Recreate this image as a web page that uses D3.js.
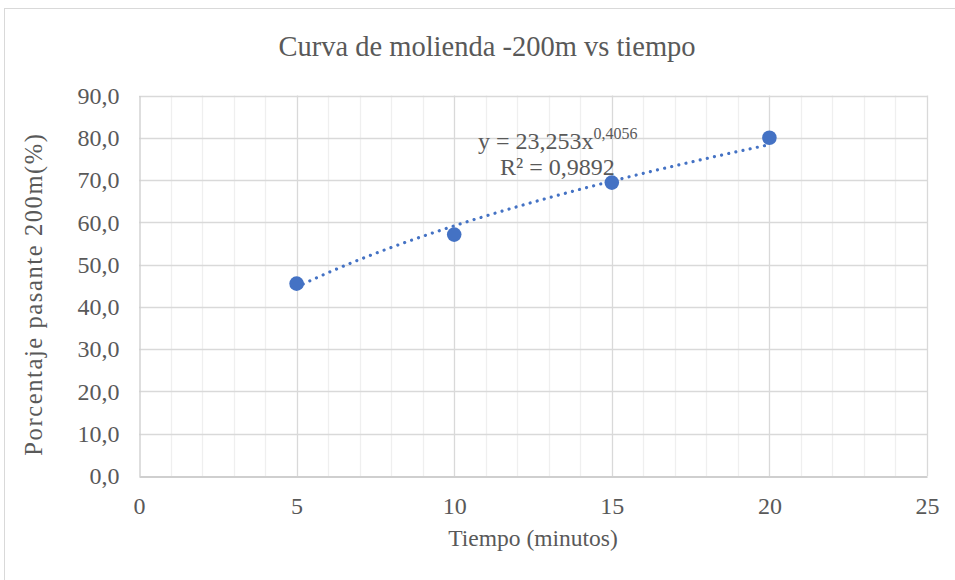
<!DOCTYPE html>
<html>
<head>
<meta charset="utf-8">
<script src="https://cdn.jsdelivr.net/npm/d3@7"></script>
<style>
  html, body { margin: 0; padding: 0; background: #ffffff; }
  svg { display: block; }
  svg text { font-family: "Times New Roman", serif; fill: #595959; }
</style>
</head>
<body>
<svg id="chart" width="955" height="580"></svg>
<script>
// Grinding curve: percent passing -200 mesh against grinding time
const tiempo = [5, 10, 15, 20];
const pasante = [45.5, 57.1, 69.4, 80.0];

// Power-law fit y = a·x^b, as reported in the trendline label
const fitA = 23.253;
const fitB = 0.4056;
const fitR2 = "0,9892";

const xTicks = [0, 5, 10, 15, 20, 25];
const yTicks = [0, 10, 20, 30, 40, 50, 60, 70, 80, 90];
const xMinorTicks = d3.range(0, 26, 1);

const titleText = "Curva de molienda -200m vs tiempo";
const xTitle = "Tiempo (minutos)";
const yTitle = "Porcentaje pasante 200m(%)";

const svg = d3.select("#chart");
const W = 955, H = 580;
const plot = { left: 139, right: 927, top: 95.5, bottom: 476 };

const x = d3.scaleLinear().domain([0, 25]).range([plot.left, plot.right]);
const y = d3.scaleLinear().domain([0, 90]).range([plot.bottom, plot.top]);
const fmt = v => d3.format(".1f")(v).replace(".", ",");
const comma = v => String(v).replace(".", ",");

// Chart frame
svg.append("rect")
  .attr("x", 4.5).attr("y", 8.5)
  .attr("width", W + 10).attr("height", H + 10)
  .attr("fill", "#ffffff").attr("stroke", "#d9d9d9");

// Title
svg.append("text")
  .attr("x", 487).attr("y", 56)
  .attr("text-anchor", "middle")
  .attr("font-size", 28.5)
  .text(titleText);

const grid = svg.append("g");

// Minor vertical gridlines
grid.selectAll("line.minor")
  .data(xMinorTicks.filter(d => d % 5 !== 0))
  .join("line")
  .attr("class", "minor")
  .attr("x1", d => Math.round(x(d)) + 0.5).attr("x2", d => Math.round(x(d)) + 0.5)
  .attr("y1", plot.top).attr("y2", plot.bottom)
  .attr("stroke", "#efefef").attr("stroke-width", 1.3);

// Major vertical gridlines
grid.selectAll("line.vmajor")
  .data(xTicks.filter(d => d > 0))
  .join("line")
  .attr("class", "vmajor")
  .attr("x1", d => Math.round(x(d)) + 0.5).attr("x2", d => Math.round(x(d)) + 0.5)
  .attr("y1", plot.top).attr("y2", plot.bottom)
  .attr("stroke", "#d9d9d9").attr("stroke-width", 1.3);

// Horizontal gridlines
grid.selectAll("line.hmajor")
  .data(yTicks.filter(d => d > 0))
  .join("line")
  .attr("class", "hmajor")
  .attr("x1", plot.left).attr("x2", plot.right)
  .attr("y1", d => Math.round(y(d)) + 0.5).attr("y2", d => Math.round(y(d)) + 0.5)
  .attr("stroke", "#d9d9d9").attr("stroke-width", 1.3);

// Axes
const xAxis = d3.axisBottom(x).tickValues(xTicks).tickSize(0).tickPadding(20)
  .tickFormat(d3.format("d"));
const gx = svg.append("g")
  .attr("transform", `translate(0,${Math.round(plot.bottom) + 0.5})`)
  .call(xAxis);
gx.attr("font-family", null).attr("font-size", null);
gx.select(".domain").attr("stroke", "#bfbfbf").attr("stroke-width", 1.4);
gx.selectAll("text").attr("font-size", 24).attr("fill", "#595959");

const yAxis = d3.axisLeft(y).tickValues(yTicks).tickSize(0).tickPadding(20)
  .tickFormat(fmt);
const gy = svg.append("g")
  .attr("transform", `translate(${Math.round(plot.left) + 0.5},0)`)
  .call(yAxis);
gy.attr("font-family", null).attr("font-size", null);
gy.select(".domain").attr("stroke", "#d0d0d0").attr("stroke-width", 1.4);
gy.selectAll("text").attr("font-size", 24).attr("fill", "#595959");

// Axis titles
svg.append("text")
  .attr("x", (plot.left + plot.right) / 2).attr("y", 546)
  .attr("text-anchor", "middle")
  .attr("font-size", 23.5)
  .text(xTitle);

svg.append("text")
  .attr("transform", "translate(42,294) rotate(-90)")
  .attr("text-anchor", "middle")
  .attr("font-size", 24.5)
  .attr("letter-spacing", 1.6)
  .text(yTitle);

// Trendline from the power-law fit, across the data range
const fitX = d3.range(tiempo[0], tiempo[tiempo.length - 1] + 0.001, 0.25);
const trend = d3.line()
  .x(d => x(d))
  .y(d => y(fitA * Math.pow(d, fitB)))
  .curve(d3.curveMonotoneX);
svg.append("path")
  .datum(fitX)
  .attr("d", trend)
  .attr("fill", "none")
  .attr("stroke", "#4472C4")
  .attr("stroke-width", 3.2)
  .attr("stroke-linecap", "round")
  .attr("stroke-dasharray", "0.01 7.3");

// Data points
svg.append("g")
  .selectAll("circle")
  .data(tiempo.map((t, i) => ({ t, v: pasante[i] })))
  .join("circle")
  .attr("cx", d => x(d.t))
  .attr("cy", d => y(d.v))
  .attr("r", 7.3)
  .attr("fill", "#4472C4");

// Trendline equation label
const eq = svg.append("text")
  .attr("x", 478).attr("y", 149)
  .attr("font-size", 24);
eq.append("tspan").text("y = " + comma(fitA) + "x");
eq.append("tspan").attr("dy", -10).attr("font-size", 16)
  .text(comma(fitB));

svg.append("text")
  .attr("x", 500).attr("y", 175)
  .attr("font-size", 24)
  .text("R² = " + fitR2);
</script>
</body>
</html>
